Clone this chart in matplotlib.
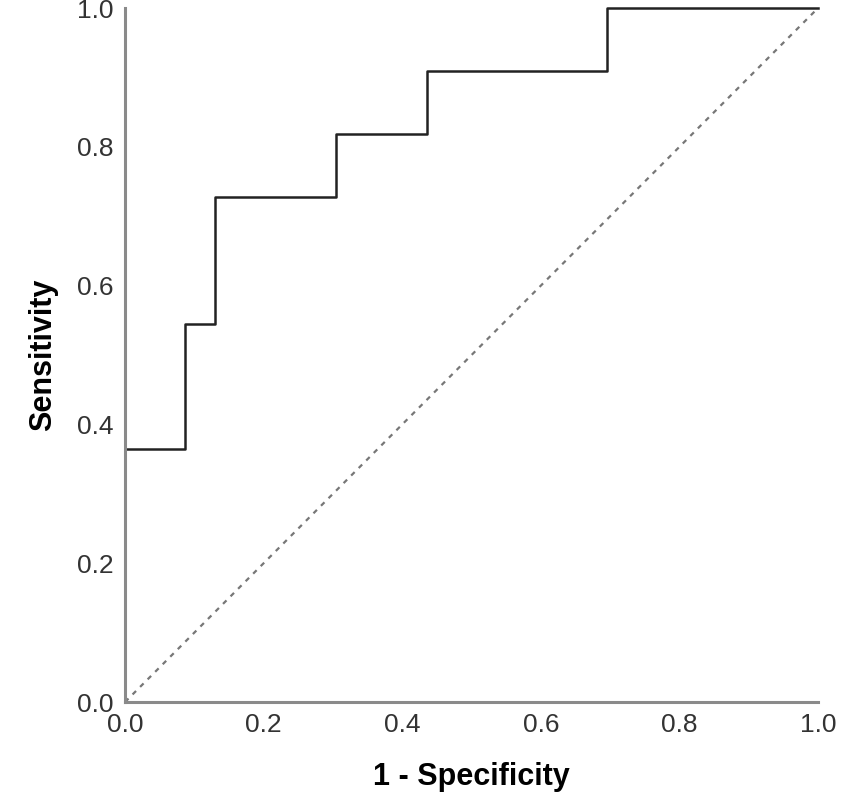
import matplotlib
matplotlib.use("Agg")
import matplotlib.pyplot as plt

plt.rcParams.update({
    "font.family": ["Liberation Sans", "DejaVu Sans"],
})

# ROC curve steps (1 - specificity, sensitivity)
FPR = [0.0, 0.0, 0.087, 0.130, 0.304, 0.435, 0.696, 1.0]
TPR = [0.0, 0.364, 0.545, 0.727, 0.818, 0.909, 1.0, 1.0]
TICKS = [0.0, 0.2, 0.4, 0.6, 0.8, 1.0]

fig = plt.figure(figsize=(8.46, 8.0), dpi=100)
ax = fig.add_axes([0.1478, 0.1225, 0.8192, 0.8675])

ax.plot([0, 1], [0, 1], color="#777777", lw=1.6, ls=(0, (2.2, 2.6)), clip_on=False)
ax.step(FPR, TPR, where="post", color="#222222", lw=1.8, clip_on=False)

ax.set_xlim(0, 1)
ax.set_ylim(0, 1)
ax.set_xticks(TICKS)
ax.set_yticks(TICKS)
ax.set_xticklabels([f"{t:.1f}" for t in TICKS])
ax.set_yticklabels([f"{t:.1f}" for t in TICKS])
ax.tick_params(length=0, labelsize=19, colors="#333333", pad=8)

for s in ("top", "right"):
    ax.spines[s].set_visible(False)
for s in ("left", "bottom"):
    ax.spines[s].set_color("#8a8a8a")
    ax.spines[s].set_linewidth(2.2)

ax.set_xlabel("1 - Specificity", fontsize=22, fontweight="bold", labelpad=18)
ax.set_ylabel("Sensitivity", fontsize=22, fontweight="bold", labelpad=14)

fig.savefig("out.png", dpi=100)
